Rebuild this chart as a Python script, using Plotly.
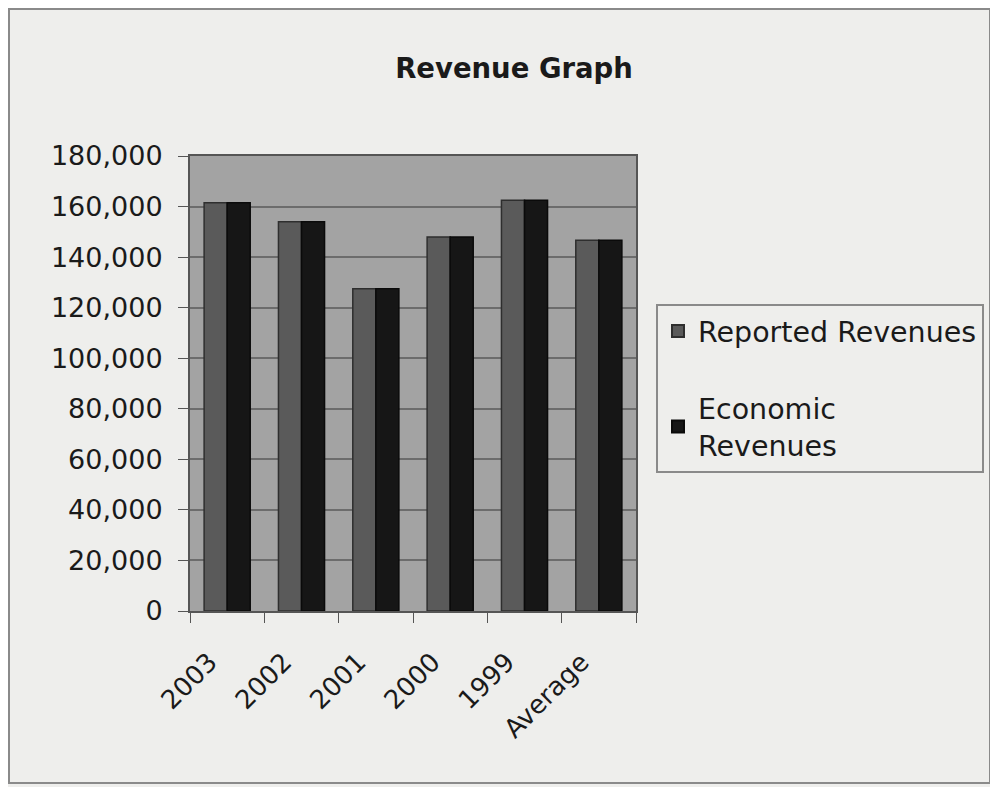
import plotly.graph_objects as go

categories = ["2003", "2002", "2001", "2000", "1999", "Average"]
reported = [161500, 154000, 127500, 148000, 162500, 146700]
economic = [161500, 154000, 127500, 148000, 162500, 146700]
y_ticks = list(range(0, 180001, 20000))

# page body has an 8px margin: work in figure coordinates = reference - 8
OFF = 8
W, H = 998 - 2 * OFF + 6, 789 - 2 * OFF + 6
L = 190 - OFF
T = 156 - OFF
R = W - (636 - OFF)
B = H - (611 - OFF)
pw, ph = W - L - R, H - T - B


def px(x):
    return (x - OFF - L) / pw


def py(y):
    return (H - B - (y - OFF)) / ph


fig = go.Figure()
fig.add_trace(go.Bar(x=categories, y=reported, name="Reported Revenues",
                     marker=dict(color="#5a5a5a", line=dict(color="#2e2e2e", width=1.5)),
                     legendgroup="a"))
fig.add_trace(go.Bar(x=categories, y=economic, name="Economic<br>Revenues",
                     marker=dict(color="#161616", line=dict(color="#0a0a0a", width=1.5)),
                     legendgroup="b"))

fig.add_shape(type="rect", xref="paper", yref="paper",
              x0=px(9), x1=px(990), y0=py(783), y1=py(9),
              line=dict(color="#8a8a8a", width=2), layer="below")

font_family = "DejaVu Sans, Liberation Sans, Arial, sans-serif"
pad = "\u00a0" * 3

fig.update_layout(
    width=W, height=H,
    margin=dict(l=L, r=R, t=T, b=B, autoexpand=False),
    paper_bgcolor="#eeeeec",
    plot_bgcolor="#a3a3a3",
    font=dict(family=font_family, size=27, color="#1a1a1a"),
    title=dict(text="<b>Revenue Graph</b>", x=(514 - OFF) / W, xanchor="center",
               y=1 - (68 - OFF) / H, yanchor="middle", font=dict(size=27.5)),
    barmode="group", bargap=0.38, bargroupgap=0.0,
    showlegend=True,
    legend=dict(x=px(656), y=py(304), xanchor="left", yanchor="top",
                bgcolor="rgba(0,0,0,0)", bordercolor="#8a8a8a", borderwidth=2,
                font=dict(size=28.5), tracegroupgap=37,
                itemsizing="constant"),
    xaxis=dict(type="category", tickmode="array", tickvals=categories,
               ticktext=[c + pad for c in categories],
               ticks="outside", tickson="boundaries", ticklen=10,
               tickcolor="#555", tickangle=-45, showline=True, linecolor="#555",
               linewidth=2, mirror=True, showgrid=False, tickfont=dict(size=26),
               ticklabelstandoff=6),
    yaxis=dict(range=[0, 180000], tickvals=y_ticks,
               ticktext=[f"{v:,}" for v in y_ticks], ticks="outside", ticklen=10,
               tickcolor="#555", showline=True, linecolor="#555", linewidth=2,
               mirror=True, gridcolor="#6c6c6c", gridwidth=2, zeroline=False,
               tickfont=dict(size=27), ticklabelstandoff=10),
)

fig.write_html("out.html")
